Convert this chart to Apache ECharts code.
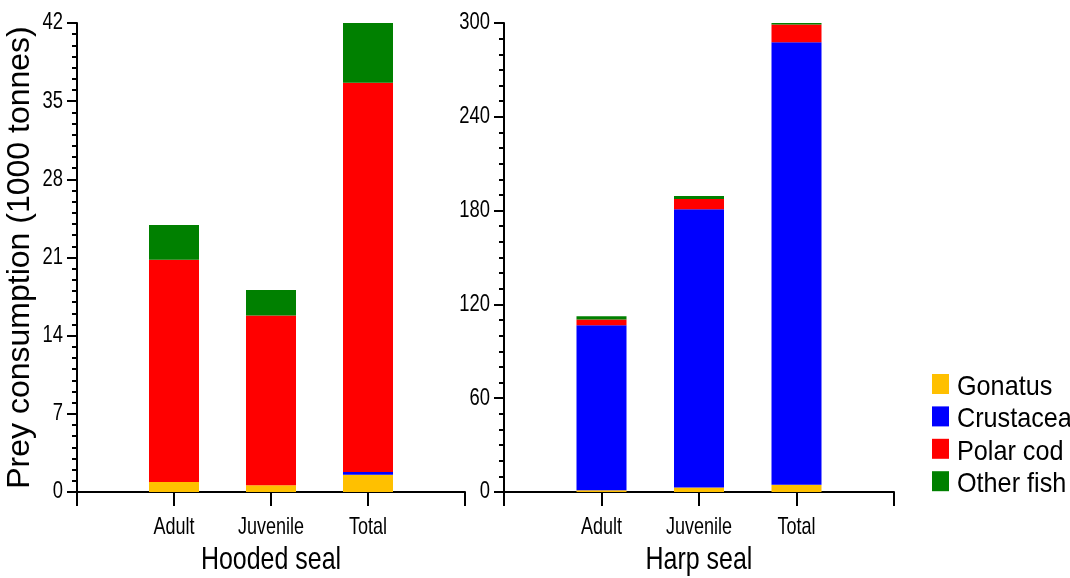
<!DOCTYPE html>
<html>
<head>
<meta charset="utf-8">
<script src="https://cdn.jsdelivr.net/npm/echarts@6/dist/echarts.min.js"></script>
<style>
  html, body { margin: 0; padding: 0; background: #fff; }
  #chart { width: 1070px; height: 578px; }
</style>
</head>
<body>
<div id="chart"></div>
<script>
// Seal prey consumption by group (1000 tonnes)
const groups = ['Adult', 'Juvenile', 'Total'];
const preyTypes = ['Gonatus', 'Crustacea', 'Polar cod', 'Other fish'];
const panelTitles = ['Hooded seal', 'Harp seal'];

const hoodedGonatus   = [0.9, 0.6, 1.55];
const hoodedCrustacea = [0, 0, 0.25];
const hoodedPolarCod  = [19.9, 15.2, 34.85];
const hoodedOtherFish = [3.1, 2.3, 5.35];

const harpGonatus   = [1.1, 2.8, 4.6];
const harpCrustacea = [105.5, 178.1, 283.1];
const harpPolarCod  = [3.7, 6.6, 11.3];
const harpOtherFish = [2.1, 1.9, 1.7];

const hoodedTicks = [0, 7, 14, 21, 28, 35, 42];
const harpTicks = [0, 60, 120, 180, 240, 300];

const preyColors = ['#FFC000', '#0000FF', '#FF0000', '#008000'];
const FAMILY = "'Liberation Sans', Arial, Helvetica, sans-serif";

// Empty slots at both ends so the axis runs one step past each group
const cats = [''].concat(groups, ['']);
const pad = arr => [null].concat(arr, [null]);

function catAxis(gridIndex) {
  return {
    type: 'category', gridIndex, data: cats, boundaryGap: false,
    axisLine: { lineStyle: { color: '#000', width: 2 } },
    axisTick: { show: true, length: 14, interval: 0, lineStyle: { color: '#000', width: 2 } },
    axisLabel: { show: false }
  };
}

function valAxis(gridIndex, ticks, minorSplit, name) {
  return {
    type: 'value', gridIndex, min: ticks[0], max: ticks[ticks.length - 1],
    interval: ticks[1] - ticks[0],
    splitLine: { show: false },
    axisLine: { show: true, onZero: false, lineStyle: { color: '#000', width: 2 } },
    axisTick: { show: true, length: 10, lineStyle: { color: '#000', width: 2 } },
    minorTick: { show: true, splitNumber: minorSplit, length: 5, lineStyle: { color: '#000', width: 2 } },
    axisLabel: { show: false },
    name: name || '', nameLocation: 'middle', nameGap: 41,
    nameTextStyle: { color: '#000', fontSize: 32, fontFamily: FAMILY }
  };
}

const hoodedSeries = [hoodedGonatus, hoodedCrustacea, hoodedPolarCod, hoodedOtherFish];
const harpSeries = [harpGonatus, harpCrustacea, harpPolarCod, harpOtherFish];

const series = [];
preyTypes.forEach((name, i) => {
  series.push({
    name, type: 'bar', stack: 'hooded', xAxisIndex: 0, yAxisIndex: 0,
    barWidth: 50, data: pad(hoodedSeries[i]), itemStyle: { color: preyColors[i] }
  });
  series.push({
    name, type: 'bar', stack: 'harp', xAxisIndex: 1, yAxisIndex: 1,
    barWidth: 50, data: pad(harpSeries[i]), itemStyle: { color: preyColors[i] }
  });
});

const chart = echarts.init(document.getElementById('chart'), null, { renderer: 'canvas' });
chart.setOption({
  animation: false,
  backgroundColor: '#fff',
  grid: [
    { left: 77, width: 388, top: 23, bottom: 86 },
    { left: 504, width: 390, top: 23, bottom: 86 }
  ],
  xAxis: [catAxis(0), catAxis(1)],
  yAxis: [
    valAxis(0, hoodedTicks, 7, 'Prey consumption (1000 tonnes)'),
    valAxis(1, harpTicks, 6)
  ],
  legend: {
    data: preyTypes, orient: 'vertical', left: 927, top: 369,
    itemWidth: 17, itemHeight: 20, itemGap: 12.4, icon: 'rect',
    formatter: () => '',
    textStyle: { fontSize: 1 }
  },
  series
});

// Condensed text: tick labels, group labels, panel titles, legend entries
function condensedText(text, x, y, size, scaleX, align) {
  return {
    type: 'text', x, y, scaleX, silent: true, z: 10,
    style: {
      text, fill: '#000', fontSize: size, fontFamily: FAMILY,
      textAlign: align, textVerticalAlign: 'middle',
      align, verticalAlign: 'middle'
    }
  };
}

const texts = [];
[hoodedTicks, harpTicks].forEach((ticks, idx) => {
  ticks.forEach(t => {
    const p = chart.convertToPixel({ gridIndex: idx }, [0, t]);
    texts.push(condensedText(String(t), p[0] - 14, p[1], 23, 0.8, 'right'));
  });
  groups.forEach((g, i) => {
    const p = chart.convertToPixel({ gridIndex: idx }, [i + 1, 0]);
    texts.push(condensedText(g, p[0], p[1] + 35, 24, 0.75, 'center'));
  });
  const left = chart.convertToPixel({ gridIndex: idx }, [0, 0]);
  const right = chart.convertToPixel({ gridIndex: idx }, [cats.length - 1, 0]);
  texts.push(condensedText(panelTitles[idx], (left[0] + right[0]) / 2, left[1] + 68, 32, 0.78, 'center'));
});
preyTypes.forEach((name, i) => {
  texts.push(condensedText(name, 957, 369 + 10 + i * 32.4 + 8, 28, 0.9, 'left'));
});
chart.setOption({ graphic: texts });
</script>
</body>
</html>
